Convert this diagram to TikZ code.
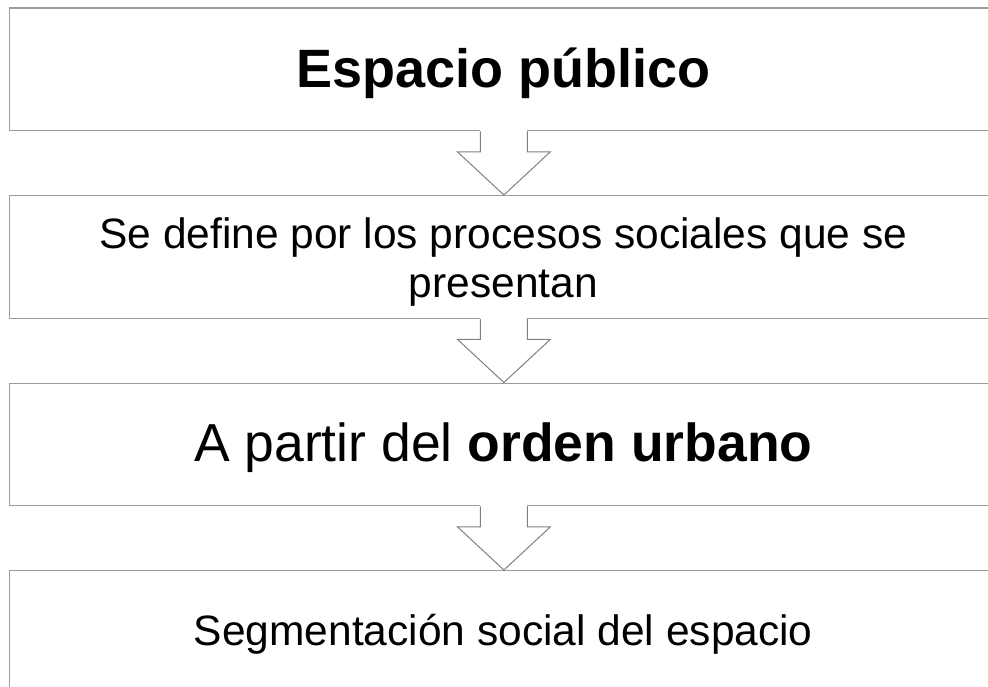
\documentclass[tikz,border=0pt]{standalone}
\usepackage{fontspec}
\setmainfont{Liberation Sans}
\usetikzlibrary{calc}
\definecolor{boxgray}{HTML}{9C9C9C}
\definecolor{arrowgray}{HTML}{808080}
\begin{document}
\begin{tikzpicture}[x=1pt,y=-1pt,
  stepbox/.style={draw=boxgray, line width=1.3pt, minimum width=989.5pt, minimum height=122.5pt, inner sep=0pt, anchor=north west},
  txt/.style={anchor=base, inner sep=0pt, align=center},
  arrowline/.style={draw=arrowgray, line width=1pt, line join=miter}]
\useasboundingbox (0,0) rectangle (988,687);
\clip (0,0) rectangle (988,687);
\node[stepbox] (b1) at (8.5,7.5) {};
\node[stepbox] (b2) at (8.5,195) {};
\node[stepbox] (b3) at (8.5,382.5) {};
\node[stepbox] (b4) at (8.5,570) {};
\node[txt] (t1) at (503.25,88) {\fontsize{54}{60}\selectfont\bfseries Espacio público};
\node[txt] (t2) at (503.25,248) {\fontsize{42.5}{49.5}\selectfont Se define por los procesos sociales que se};
\node[txt] (t2b) at (503.25,297.5) {\fontsize{42.5}{49.5}\selectfont presentan};
\node[txt] (t3) at (503.25,461.7) {\fontsize{53.5}{60}\selectfont A partir del \textbf{orden urbano}};
\node[txt] (t4) at (503.25,645) {\fontsize{42.5}{49.5}\selectfont Segmentación social del espacio};
% arrows
\foreach \s/\t in {b1/b2,b2/b3,b3/b4}{
  \fill[white] ($(\s.south)+(-23.5,-1)$) rectangle ($(\s.south)+(23.5,20.5)$);
  \draw[arrowline] ($(\s.south)+(-23.5,0)$) -- ++(0,20.5) -- ++(-23,0) -- (\t.north)
     -- ($(\s.south)+(46.5,20.5)$) -- ++(-23,0) -- ++(0,-20.5);
}
\end{tikzpicture}
\end{document}
